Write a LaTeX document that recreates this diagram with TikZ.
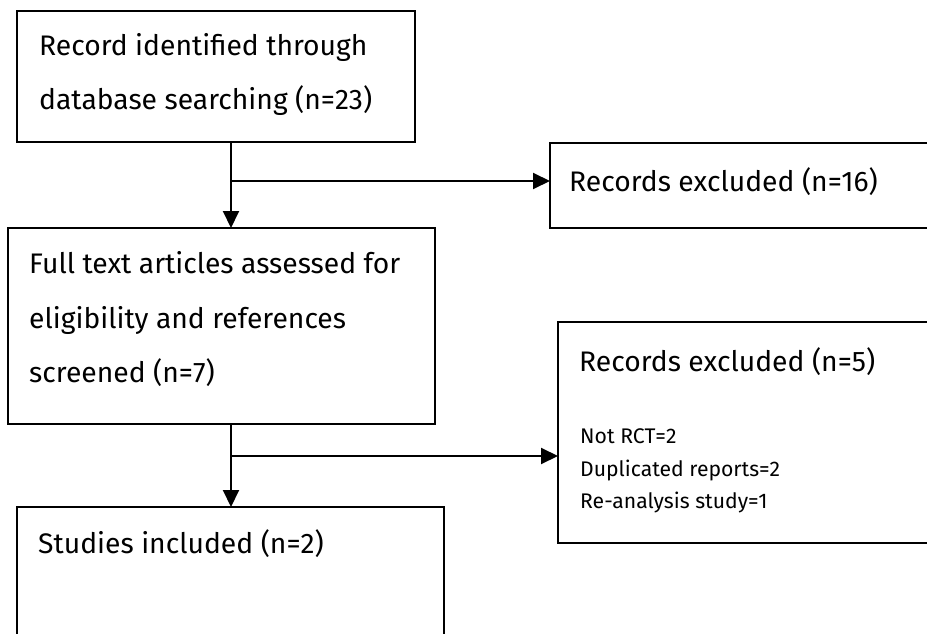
\documentclass[tikz,border=0pt]{standalone}
\usepackage{fontspec}
\setmainfont{Fira Sans}
\usetikzlibrary{arrows.meta}
\newlength\measw
\begin{document}
\settowidth\measw{\fontsize{10}{10}\selectfont database searching (n=23)}%
\pgfmathsetmacro\bigfs{10*333/\measw}%
\settowidth\measw{\fontsize{10}{10}\selectfont Duplicated reports=2}%
\pgfmathsetmacro\smallfs{10*200/\measw}%
\begin{tikzpicture}[x=1pt,y=-1pt,
  box/.style={draw=black,line width=1.4pt},
  big/.style={anchor=base west,inner sep=0pt,font=\fontsize{\bigfs}{\bigfs}\selectfont},
  small/.style={anchor=base west,inner sep=0pt,font=\fontsize{\smallfs}{\smallfs}\selectfont},
  arr/.style={line width=2pt,-{Triangle[length=17pt,width=16pt]}}]
\useasboundingbox (0,0) rectangle (927,634);
\clip (0,0) rectangle (927,634);
% boxes
\draw[box] (17,11) rectangle (415,142);
\draw[box] (8,228) rectangle (435,424);
\draw[box] (550,143) rectangle (940,228);
\draw[box] (558,322) rectangle (940,543);
\draw[box] (17,507) rectangle (444,650);
% named anchor coordinates
\coordinate (b1) at (231,142);
\coordinate (b2t) at (231,228);
\coordinate (j1) at (231,181);
\coordinate (b3l) at (550,181);
\coordinate (b2b) at (231,424);
\coordinate (b4t) at (231,507);
\coordinate (j2) at (231,456);
\coordinate (b5l) at (558,456);
% texts
\node[big] (t1a) at (39,56) {Record identified through};
\node[big] (t1b) at (39,110) {database searching (n=23)};
\node[big] (t2a) at (29,273) {Full text articles assessed for};
\node[big] (t2b) at (29,328) {eligibility and references};
\node[big] (t2c) at (29,382) {screened (n=7)};
\node[big] (t3) at (569,191) {Records excluded (n=16)};
\node[big] (t4) at (38,553) {Studies included (n=2)};
\node[big] (t5) at (579,371) {Records excluded (n=5)};
\node[small] (t5a) at (580,443) {Not RCT=2};
\node[small] (t5b) at (580,476) {Duplicated reports=2};
\node[small] (t5c) at (580,508) {Re-analysis study=1};
% connectors
\draw[arr] (b1) -- (b2t);
\draw[arr] (j1) -- (b3l);
\draw[arr] (b2b) -- (b4t);
\draw[arr] (j2) -- (b5l);
\end{tikzpicture}
\end{document}
